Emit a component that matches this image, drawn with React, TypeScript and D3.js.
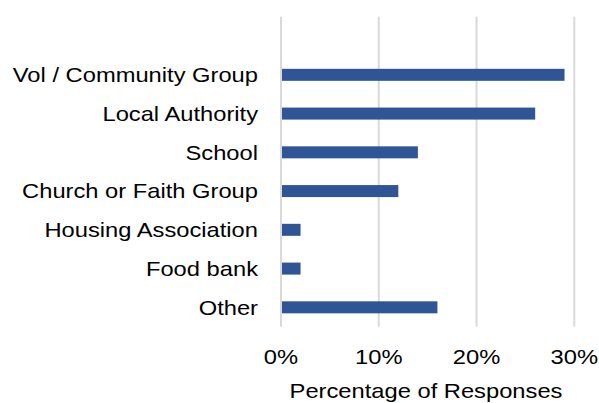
import React from "react";
import * as d3 from "d3";

const categories = [
  "Vol / Community Group",
  "Local Authority",
  "School",
  "Church or Faith Group",
  "Housing Association",
  "Food bank",
  "Other",
];
const values = [0.29, 0.26, 0.14, 0.12, 0.02, 0.02, 0.16];
const xTicks = [0, 0.1, 0.2, 0.3];
const xTitle = "Percentage of Responses";

const W = 599;
const H = 403;
const FONT = "'Liberation Sans', Arial, sans-serif";

export default function App() {
  const x = d3.scaleLinear().domain([0, 0.3]).range([281, 574.3]);
  const y = d3
    .scaleBand<string>()
    .domain(["", ...categories])
    .range([16.7, 326.7])
    .paddingInner(0.69)
    .paddingOuter(0.345);
  const fmt = d3.format(".0%");
  const gridTop = 16.7;
  const gridBottom = 326.7;

  const Txt = ({ tx, ty, anchor, size, sx, children }: any) => (
    <text
      transform={`translate(${tx},${ty}) scale(${sx},1)`}
      textAnchor={anchor}
      fontSize={size}
      fontFamily={FONT}
      fill="#000"
    >
      {children}
    </text>
  );

  return (
    <svg
      width={W}
      height={H}
      style={{ position: "absolute", left: 0, top: 0, background: "#fff" }}
    >
      {xTicks.map((t) => (
        <line
          key={"g" + t}
          x1={x(t)}
          x2={x(t)}
          y1={gridTop}
          y2={gridBottom}
          stroke="#d9d9d9"
          strokeWidth={2}
        />
      ))}
      {categories.map((c, i) => (
        <rect
          key={c}
          x={x(0) + 1}
          y={y(c)!}
          width={x(values[i]) - x(0) - 1}
          height={y.bandwidth()}
          fill="#2f5597"
        />
      ))}
      {categories.map((c) => (
        <Txt key={"l" + c} tx={258} ty={y(c)! + y.bandwidth() / 2 + 7.3} anchor="end" size={21} sx={1.13}>
          {c}
        </Txt>
      ))}
      {xTicks.map((t) => (
        <Txt key={"t" + t} tx={x(t)} ty={364} anchor="middle" size={21} sx={1.13}>
          {fmt(t)}
        </Txt>
      ))}
      <Txt tx={426} ty={398.3} anchor="middle" size={21} sx={1.13}>
        {xTitle}
      </Txt>
    </svg>
  );
}
